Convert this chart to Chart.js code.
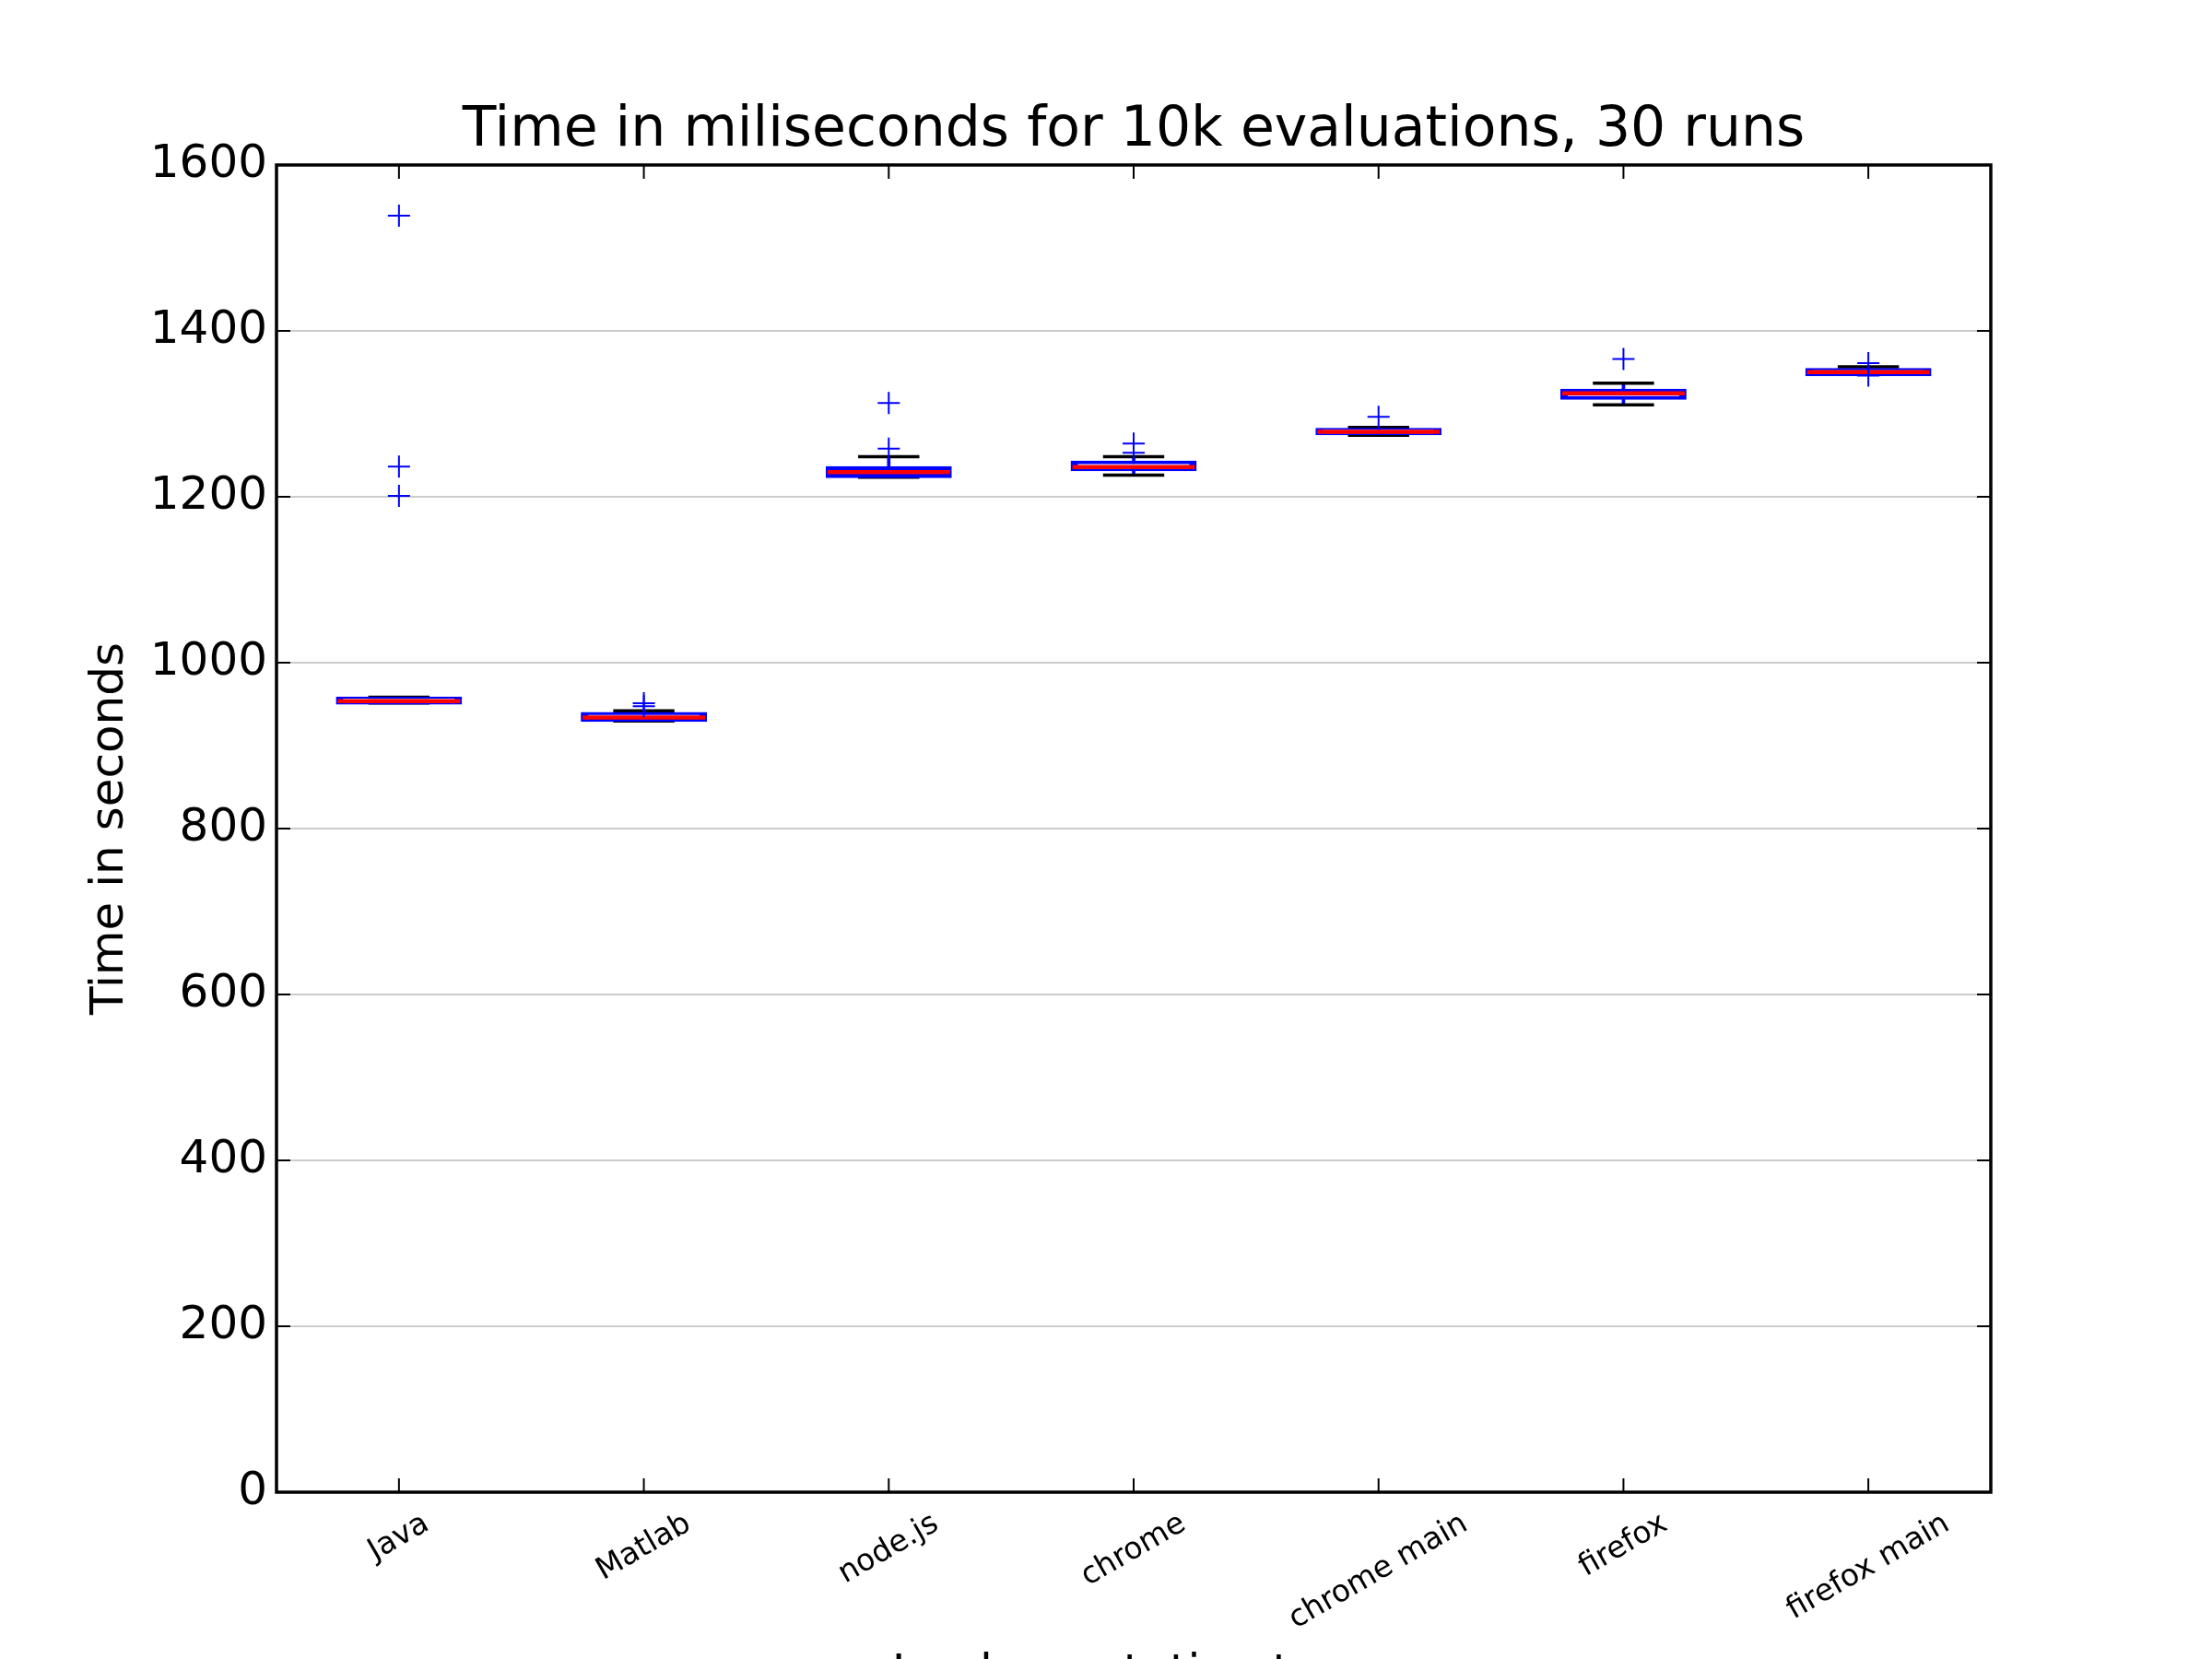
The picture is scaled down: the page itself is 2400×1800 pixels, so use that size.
<!DOCTYPE html>
<html>
<head>
<meta charset="utf-8">
<script src="https://cdn.jsdelivr.net/npm/chart.js@4.4.1/dist/chart.umd.min.js"></script>
<style>
html,body{margin:0;padding:0;background:#fff;overflow:hidden}
canvas{display:block}
</style>
</head>
<body>
<canvas id="c" width="2400" height="1800" style="width:2400px;height:1800px"></canvas>
<script>
// ---- data ----
const categories = ['Java', 'Matlab', 'node.js', 'chrome', 'chrome main', 'firefox', 'firefox main'];
const whiskerLow  = [951.5, 929.8, 1223.6, 1226.1, 1274.2, 1310.9, 1347.4];
const q1          = [951.7, 930.9, 1224.7, 1233.1, 1276.3, 1319.1, 1347.6];
const median      = [953.6, 933.9, 1229.8, 1235.8, 1278.3, 1324.6, 1350.2];
const q3          = [957.0, 938.3, 1234.6, 1241.5, 1280.8, 1328.0, 1353.0];
const whiskerHigh = [958.3, 942.0, 1248.3, 1248.3, 1283.6, 1336.9, 1356.7];
const outliers = [
  [1539, 1236.5, 1201],
  [951, 947.6],
  [1313, 1258],
  [1264.2, 1253.1],
  [1296.4],
  [1366.1],
  [1361, 1346]
];
const yTicks = [0, 200, 400, 600, 800, 1000, 1200, 1400, 1600];
const titleText = 'Time in miliseconds for 10k evaluations, 30 runs';
const yTitle = 'Time in seconds';
const xTitle = 'Implementation type';

// ---- derived tables for the library ----
const boxData = categories.map((c, i) => [q1[i], q3[i]]);
const lowWhiskerData = categories.map((c, i) => [whiskerLow[i], q1[i]]);
const highWhiskerData = categories.map((c, i) => [q3[i], whiskerHigh[i]]);
const flierData = [];
categories.forEach((c, i) => outliers[i].forEach(v => flierData.push({x: c, y: v})));

const BLUE = '#0000ff', RED = '#ff0000', BLACK = '#000000';
const FONT = "'DejaVu Sans', 'Liberation Sans', sans-serif";
Chart.defaults.font.family = FONT;
Chart.defaults.color = BLACK;

function catWidth(ctx) {
  const xs = ctx.chart.scales.x;
  return xs ? xs.width / categories.length : 266;
}

// spines + inward ticks + centered rotated x labels
const decor = {
  id: 'decor',
  afterDraw(chart) {
    const {ctx, chartArea: a, scales} = chart;
    const xs = scales.x, ys = scales.y;
    ctx.save();
    ctx.strokeStyle = BLACK;
    ctx.lineWidth = 2;
    const tl = 15;
    ctx.beginPath();
    yTicks.forEach(v => {
      const py = ys.getPixelForValue(v);
      ctx.moveTo(a.left, py); ctx.lineTo(a.left + tl, py);
      ctx.moveTo(a.right, py); ctx.lineTo(a.right - tl, py);
    });
    categories.forEach((c, i) => {
      const px = xs.getPixelForTick(i);
      ctx.moveTo(px, a.bottom); ctx.lineTo(px, a.bottom - tl);
      ctx.moveTo(px, a.top); ctx.lineTo(px, a.top + tl);
    });
    ctx.stroke();
    ctx.lineWidth = 3.5;
    ctx.strokeRect(a.left, a.top, a.right - a.left, a.bottom - a.top);
    const fs = 33;
    ctx.font = fs + 'px ' + FONT;
    ctx.fillStyle = BLACK;
    ctx.textAlign = 'center';
    ctx.textBaseline = 'middle';
    const top = a.bottom + 17;
    const ang = 30 * Math.PI / 180;
    categories.forEach((c, i) => {
      const px = xs.getPixelForTick(i);
      const w = ctx.measureText(c).width;
      const h = fs * 1.05;
      const bh = w * Math.sin(ang) + h * Math.cos(ang);
      ctx.save();
      ctx.translate(px, top + bh / 2);
      ctx.rotate(-ang);
      ctx.fillText(c, 0, 0);
      ctx.restore();
    });
    ctx.restore();
  }
};

new Chart(document.getElementById('c'), {
  type: 'bar',
  data: {
    labels: categories,
    datasets: [
      {
        type: 'line', label: 'outliers', data: flierData, order: 0,
        showLine: false, pointStyle: 'cross', pointRadius: 12, pointHoverRadius: 12,
        borderColor: BLUE, pointBorderColor: BLUE, pointBorderWidth: 2, backgroundColor: BLUE
      },
      {
        type: 'line', label: 'median', data: median, order: 1,
        showLine: false, pointStyle: 'line',
        pointRadius: ctx => catWidth(ctx) * 0.25,
        pointHoverRadius: ctx => catWidth(ctx) * 0.25,
        borderColor: RED, pointBorderColor: RED, pointBorderWidth: 4.5
      },
      {
        label: 'box', data: boxData, order: 2, grouped: false,
        barPercentage: 0.5, categoryPercentage: 1.0, inflateAmount: 2,
        backgroundColor: 'rgba(0,0,0,0)', borderColor: BLUE, borderWidth: 4, borderSkipped: false
      },
      {
        type: 'line', label: 'capLow', data: whiskerLow, order: 3,
        showLine: false, pointStyle: 'line',
        pointRadius: ctx => catWidth(ctx) * 0.125,
        pointHoverRadius: ctx => catWidth(ctx) * 0.125,
        borderColor: BLACK, pointBorderColor: BLACK, pointBorderWidth: 3.5
      },
      {
        type: 'line', label: 'capHigh', data: whiskerHigh, order: 3,
        showLine: false, pointStyle: 'line',
        pointRadius: ctx => catWidth(ctx) * 0.125,
        pointHoverRadius: ctx => catWidth(ctx) * 0.125,
        borderColor: BLACK, pointBorderColor: BLACK, pointBorderWidth: 3.5
      },
      {
        label: 'whiskerLow', data: lowWhiskerData, order: 4, grouped: false,
        barThickness: 3, backgroundColor: BLUE, borderWidth: 0
      },
      {
        label: 'whiskerHigh', data: highWhiskerData, order: 4, grouped: false,
        barThickness: 3, backgroundColor: BLUE, borderWidth: 0
      }
    ]
  },
  options: {
    responsive: false,
    devicePixelRatio: 1,
    animation: false,
    events: [],
    layout: {padding: {left: 0, right: 240, top: 0, bottom: 0}},
    plugins: {
      legend: {display: false},
      tooltip: {enabled: false},
      title: {
        display: true, text: titleText, fullSize: false, color: BLACK,
        font: {size: 60, weight: 'normal', family: FONT},
        padding: {top: 106, bottom: 1}
      }
    },
    scales: {
      x: {
        type: 'category', offset: true,
        grid: {display: false, drawTicks: false},
        border: {display: false},
        ticks: {display: false},
        title: {
          display: true, text: xTitle, color: BLACK,
          font: {size: 50, weight: 'normal', family: FONT},
          padding: {top: 0, bottom: -47}
        },
        afterFit: s => { s.height = 181; }
      },
      y: {
        min: 0, max: 1600,
        afterBuildTicks: s => { s.ticks = yTicks.map(v => ({value: v})); },
        grid: {color: '#cccccc', lineWidth: 2, drawTicks: false},
        border: {display: false},
        ticks: {
          font: {size: 50, family: FONT}, color: BLACK, padding: 10,
          callback: v => String(v)
        },
        title: {
          display: true, text: yTitle, color: BLACK,
          font: {size: 50, weight: 'normal', family: FONT},
          padding: {top: 90, bottom: 0}
        },
        afterFit: s => { s.width = 300; }
      }
    }
  },
  plugins: [decor]
});
</script>
</body>
</html>
